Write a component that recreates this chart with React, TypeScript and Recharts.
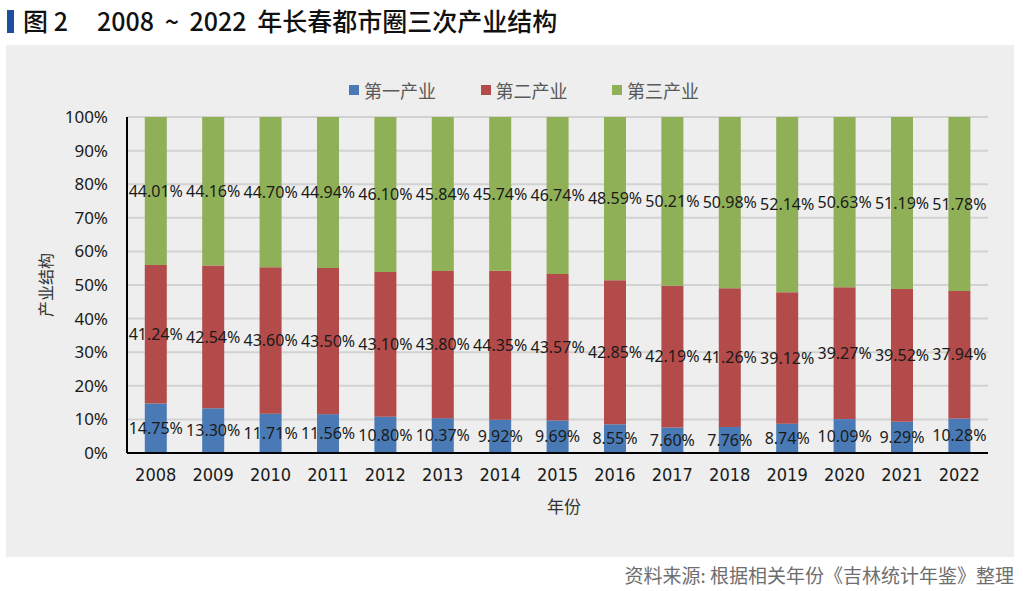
import React from 'react';
import { BarChart, Bar, XAxis, YAxis, CartesianGrid, LabelList } from 'recharts';

const years = ['2008', '2009', '2010', '2011', '2012', '2013', '2014', '2015', '2016', '2017', '2018', '2019', '2020', '2021', '2022'];
const primary = [14.75, 13.3, 11.71, 11.56, 10.8, 10.37, 9.92, 9.69, 8.55, 7.6, 7.76, 8.74, 10.09, 9.29, 10.28];
const secondary = [41.24, 42.54, 43.6, 43.5, 43.1, 43.8, 44.35, 43.57, 42.85, 42.19, 41.26, 39.12, 39.27, 39.52, 37.94];
const tertiary = [44.01, 44.16, 44.7, 44.94, 46.1, 45.84, 45.74, 46.74, 48.59, 50.21, 50.98, 52.14, 50.63, 51.19, 51.78];
const yTicks = [0, 10, 20, 30, 40, 50, 60, 70, 80, 90, 100];

const series = [
  { key: 'primary', name: '第一产业', color: '#4a7ab5' },
  { key: 'secondary', name: '第二产业', color: '#b24b49' },
  { key: 'tertiary', name: '第三产业', color: '#8fb057' },
];

const data = years.map((year, i) => ({
  year,
  primary: primary[i],
  secondary: secondary[i],
  tertiary: tertiary[i],
}));

const cjk = "'Noto Sans CJK SC', 'Noto Sans', sans-serif";
const narrow = "'Liberation Sans Narrow', 'DejaVu Sans Condensed', sans-serif";

const fmt = (v: any) => `${Number(v).toFixed(2)}%`;

export default function App() {
  return (
    <div style={{ position: 'absolute', left: 0, top: 0, width: 1024, height: 591, background: '#fff', overflow: 'hidden' }}>
      {/* title */}
      <div style={{ position: 'absolute', left: 7, top: 10, width: 7, height: 23, background: '#1d4f9e' }} />
      <div style={{ position: 'absolute', left: 23, top: 3, fontFamily: cjk, fontSize: 25, fontWeight: 500, color: '#111', whiteSpace: 'pre', lineHeight: '34px' }}>
        图 2
      </div>
      <div style={{ position: 'absolute', left: 97, top: 3, fontFamily: cjk, fontSize: 25, fontWeight: 500, color: '#111', whiteSpace: 'pre', wordSpacing: 5, lineHeight: '34px' }}>
        2008 ~ 2022 年长春都市圈三次产业结构
      </div>

      {/* panel */}
      <div style={{ position: 'absolute', left: 6, top: 45, width: 1008, height: 512, background: '#edeeed' }} />

      {/* legend */}
      {series.map((s, i) => (
        <div key={s.key} style={{ position: 'absolute', left: 349 + i * 131.5, top: 79, display: 'flex', alignItems: 'center', fontFamily: cjk, fontSize: 18, color: '#595959', lineHeight: '22px' }}>
          <span style={{ display: 'inline-block', width: 10, height: 10, background: s.color, marginRight: 5 }} />
          {s.name}
        </div>
      ))}

      <BarChart
        width={1024}
        height={591}
        data={data}
        margin={{ top: 117, right: 36, left: 67, bottom: 108 }}
        barCategoryGap="31%"
        style={{ position: 'absolute', left: 0, top: 0 }}
      >
        <CartesianGrid vertical={false} stroke="#d2d2d2" strokeWidth={2} />
        <XAxis
          dataKey="year"
          height={30}
          tickLine={false}
          tickSize={0}
          tickMargin={15}
          axisLine={{ stroke: '#000', strokeWidth: 2 }}
          tick={{ fontSize: 18, fill: '#1a1a1a', fontFamily: narrow }}
        />
        <YAxis
          width={60}
          domain={[0, 100]}
          ticks={yTicks}
          tickLine={false}
          tickSize={0}
          tickMargin={19}
          axisLine={{ stroke: '#000', strokeWidth: 2 }}
          tickFormatter={(v) => `${v}%`}
          tick={{ fontSize: 17, fill: '#1a1a1a', fontFamily: "'Noto Sans', sans-serif" }}
          interval={0}
        />
        {series.map((s) => (
          <Bar key={s.key} dataKey={s.key} name={s.name} stackId="a" fill={s.color} isAnimationActive={false}>
            <LabelList
              dataKey={s.key}
              position="center"
              formatter={fmt}
              fill="#1a1a1a"
              fontSize={16}
              fontFamily="'Noto Sans', sans-serif"
            />
          </Bar>
        ))}
      </BarChart>

      {/* axis titles */}
      <div style={{ position: 'absolute', left: 547, top: 495, fontFamily: cjk, fontSize: 17, color: '#333', lineHeight: '22px' }}>年份</div>
      <div style={{ position: 'absolute', left: 45, top: 285, transform: 'translate(-50%, -50%) rotate(-90deg)', fontFamily: cjk, fontSize: 16, color: '#333', whiteSpace: 'nowrap', lineHeight: '20px' }}>
        产业结构
      </div>

      {/* source */}
      <div style={{ position: 'absolute', right: 10, top: 562, fontFamily: cjk, fontSize: 19, color: '#6e6e6e', whiteSpace: 'pre', lineHeight: '26px' }}>
        资料来源: 根据相关年份《吉林统计年鉴》整理
      </div>
    </div>
  );
}
